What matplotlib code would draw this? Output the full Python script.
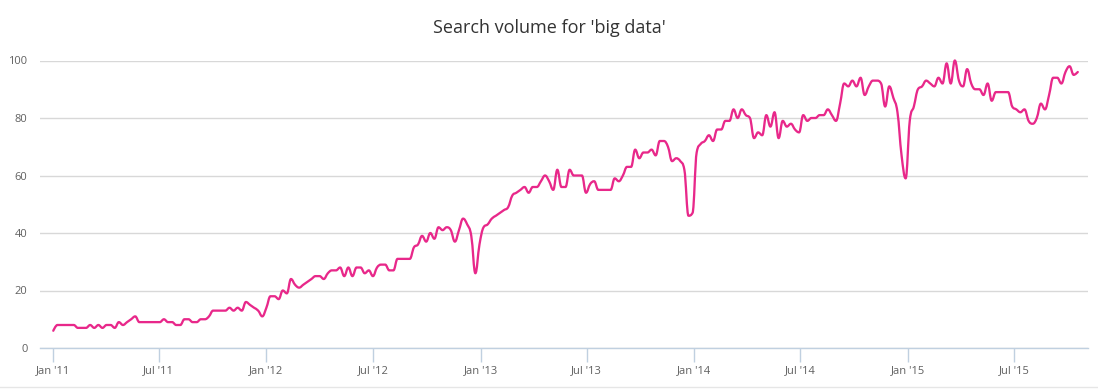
import matplotlib
matplotlib.use("Agg")
import matplotlib.pyplot as plt
import matplotlib.dates as mdates
import numpy as np
import pandas as pd
from matplotlib.path import Path
from matplotlib.patches import PathPatch
from matplotlib.lines import Line2D

plt.rcParams['font.family'] = ['Open Sans', 'DejaVu Sans']

# ---------------- data ----------------
title = "Search volume for 'big data'"
start_date = "2011-01-02"          # weekly series
search_volume = [
    6, 8, 8, 8, 8, 8, 7, 7, 7, 8, 7, 8, 7, 8, 8, 7, 9, 8, 9, 10,
    11, 9, 9, 9, 9, 9, 9, 10, 9, 9, 8, 8, 10, 10, 9, 9, 10, 10, 11, 13,
    13, 13, 13, 14, 13, 14, 13, 16, 15, 14, 13, 11, 14, 18, 18, 17, 20, 19, 24, 22,
    21, 22, 23, 24, 25, 25, 24, 26, 27, 27, 28, 25, 28, 25, 28, 28, 26, 27, 25, 28,
    29, 29, 27, 27, 31, 31, 31, 31, 35, 36, 39, 37, 40, 38, 42, 41, 42, 41, 37, 41,
    45, 43, 39, 26, 36, 42, 43, 45, 46, 47, 48, 49, 53, 54, 55, 56, 54, 56, 56, 58,
    60, 58, 55, 62, 56, 56, 62, 60, 60, 60, 54, 57, 58, 55, 55, 55, 55, 59, 58, 60,
    63, 63, 69, 66, 68, 68, 69, 67, 72, 72, 70, 65, 66, 65, 62, 46, 47, 68, 71, 72,
    74, 72, 76, 76, 79, 79, 83, 80, 83, 81, 80, 73, 75, 74, 81, 77, 82, 73, 79, 77,
    78, 76, 75, 81, 79, 80, 80, 81, 81, 83, 81, 79, 85, 92, 91, 93, 91, 94, 88, 91,
    93, 93, 92, 84, 91, 87, 82, 67, 59, 79, 84, 90, 91, 93, 92, 91, 94, 92, 99, 92,
    100, 93, 91, 97, 92, 90, 90, 88, 92, 86, 89, 89, 89, 89, 84, 83, 82, 83, 79, 78,
    80, 85, 83, 88, 94, 94, 92, 96, 98, 95, 96,
]
y_ticks = [0, 20, 40, 60, 80, 100]
x_tick_dates = ["2011-01-01", "2011-07-01", "2012-01-01", "2012-07-01", "2013-01-01",
                "2013-07-01", "2014-01-01", "2014-07-01", "2015-01-01", "2015-07-01"]
x_tick_labels = ["Jan '11", "Jul '11", "Jan '12", "Jul '12", "Jan '13",
                 "Jul '13", "Jan '14", "Jul '14", "Jan '15", "Jul '15"]

# ---------------- figure ----------------
W, H = 1098, 390
fig = plt.figure(figsize=(W / 100, H / 100), dpi=100)
left, right, bottom, top = 40, 1088, 348, 60.5
ax = fig.add_axes([left / W, 1 - bottom / H, (right - left) / W, (bottom - top) / H])

dates = pd.date_range(start_date, periods=len(search_volume), freq="7D")
xs = mdates.date2num(dates.to_pydatetime())
ys = np.asarray(search_volume, dtype=float)

# Highcharts-like spline path through the data points
def spline_path(x, y, smoothing=1.5):
    denom = smoothing + 1
    n = len(x)
    lc = [(x[0], y[0])] * n
    rc = [(x[0], y[0])] * n
    for i in range(n):
        if i == 0 or i == n - 1:
            lc[i] = (x[i], y[i]); rc[i] = (x[i], y[i]); continue
        px, py = x[i], y[i]
        lx, ly = x[i - 1], y[i - 1]
        nx, ny = x[i + 1], y[i + 1]
        lcx = (smoothing * px + lx) / denom
        lcy = (smoothing * py + ly) / denom
        rcx = (smoothing * px + nx) / denom
        rcy = (smoothing * py + ny) / denom
        corr = ((rcy - lcy) * (rcx - px)) / (rcx - lcx) + py - rcy
        lcy += corr; rcy += corr
        if lcy > ly and lcy > py:
            lcy = max(ly, py); rcy = 2 * py - lcy
        elif lcy < ly and lcy < py:
            lcy = min(ly, py); rcy = 2 * py - lcy
        if rcy > ny and rcy > py:
            rcy = max(ny, py); lcy = 2 * py - rcy
        elif rcy < ny and rcy < py:
            rcy = min(ny, py); lcy = 2 * py - rcy
        lc[i] = (lcx, lcy); rc[i] = (rcx, rcy)
    verts = [(x[0], y[0])]
    codes = [Path.MOVETO]
    for i in range(1, n):
        verts += [rc[i - 1], lc[i], (x[i], y[i])]
        codes += [Path.CURVE4] * 3
    return Path(verts, codes)

path = spline_path(xs, ys)
ax.add_patch(PathPatch(path, facecolor="none", edgecolor="#e8288a", lw=1.65,
                       capstyle="round", joinstyle="round", clip_on=False, zorder=3))
# invisible points so the data extents are registered
ax.plot(xs, ys, lw=0, alpha=0)

x0 = mdates.date2num(pd.Timestamp("2011-01-01"))
ppd = (908 - 52.7) / 1461.0
ax.set_xlim(x0 - (52.7 - left) / ppd, x0 + (right - 52.7) / ppd)
ax.set_ylim(0, 100)

ax.set_yticks(y_ticks)
ax.set_yticklabels([str(v) for v in y_ticks])
ax.set_xticks(mdates.date2num(pd.to_datetime(x_tick_dates).to_pydatetime()))
ax.set_xticklabels(x_tick_labels)

for s in ["top", "right", "left"]:
    ax.spines[s].set_visible(False)
ax.spines["bottom"].set_color("#c0d0e0")
ax.spines["bottom"].set_linewidth(1)
ax.grid(axis="y", color="#d8d8d8", lw=1)
ax.set_axisbelow(True)
ax.tick_params(axis="y", length=0, pad=9, labelsize=8, labelcolor="#606060")
ax.tick_params(axis="x", length=10, width=1, color="#c0d0e0", pad=2,
               labelsize=8, labelcolor="#606060")

fig.text(0.5, 1 - 28 / H, title, ha="center", va="center",
         fontsize=13, color="#333333")
fig.add_artist(Line2D([0, 1], [3 / H, 3 / H], color="#e6e6e6", lw=1,
                      transform=fig.transFigure))

fig.savefig("out.png", dpi=100, facecolor="white")
